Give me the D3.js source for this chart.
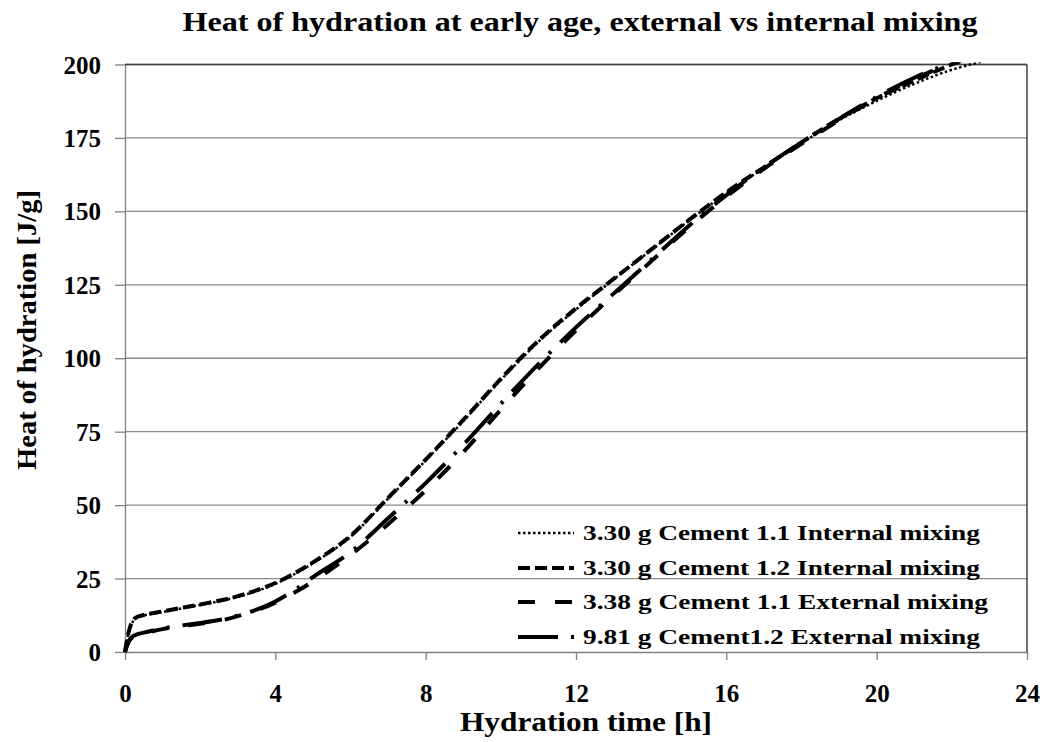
<!DOCTYPE html>
<html>
<head>
<meta charset="utf-8">
<script src="https://cdn.jsdelivr.net/npm/d3@7"></script>
<style>
  body { margin: 0; background: #fff; }
  svg { display: block; }
  text { font-family: "Liberation Serif", "Times New Roman", Tinos, serif; font-weight: bold; fill: #000; }
</style>
</head>
<body>
<svg id="chart" width="1043" height="742"></svg>
<script>
// ---- data ----
const title = "Heat of hydration at early age, external vs internal mixing";
const xTitle = "Hydration time [h]";
const yTitle = "Heat of hydration [J/g]";
const xTicks = [0, 4, 8, 12, 16, 20, 24];
const yTicks = [0, 25, 50, 75, 100, 125, 150, 175, 200];

const seriesNames = [
  "3.30 g Cement 1.1 Internal mixing",
  "3.30 g Cement 1.2 Internal mixing",
  "3.38 g Cement 1.1 External mixing",
  "9.81 g Cement1.2 External mixing"
];

const hours1 = [0, 0.05, 0.1, 0.2, 0.3, 0.5, 1, 1.5, 2, 3, 4, 5, 6, 7, 8, 9, 10, 11, 12, 13, 14, 15, 16, 17, 18, 19, 20, 21, 22, 22.8];
const heat1  = [0, 3.8, 6.8, 10.2, 11.5, 12.4, 13.6, 14.8, 16, 18.8, 23.2, 30.2, 39.2, 52.2, 65.2, 78.6, 92.6, 105.6, 116.6, 126.8, 136.8, 146.8, 156.2, 164.8, 173.2, 181, 187.6, 193.4, 198.2, 201];

const hours2 = [0, 0.05, 0.1, 0.2, 0.3, 0.5, 1, 1.5, 2, 3, 4, 5, 6, 7, 8, 9, 10, 11, 12, 13, 14, 15, 16, 17, 18, 19, 20, 21, 22, 22.4];
const heat2  = [0, 4, 7, 10.5, 11.8, 12.6, 13.8, 15, 16.2, 19, 23.5, 30.5, 39.5, 52.5, 65.5, 79, 93, 106, 117, 127, 137, 147, 156.5, 165, 173.5, 181.5, 188.5, 194.5, 200, 202];

const hours3 = [0, 0.05, 0.1, 0.2, 0.3, 0.5, 1, 1.5, 2, 2.5, 3, 3.5, 4, 4.5, 5, 6, 7, 8, 9, 10, 11, 12, 13, 14, 15, 16, 17, 18, 19, 20, 21, 22, 22.4];
const heat3  = [0, 2, 3.5, 5, 5.6, 6.3, 7.8, 8.8, 9.6, 10.6, 12.2, 14.2, 16.8, 20.2, 24, 33, 43.5, 55, 68, 82.5, 96.5, 109.5, 121.5, 133, 144.5, 155, 164.5, 173, 181, 188.5, 195, 200.5, 202];

const hours4 = [0, 0.05, 0.1, 0.2, 0.3, 0.5, 1, 1.5, 2, 2.5, 3, 3.5, 4, 4.5, 5, 6, 7, 8, 9, 10, 11, 12, 13, 14, 15, 16, 17, 18, 19, 20, 21, 22, 22.4];
const heat4  = [0, 2.2, 3.8, 5.3, 5.9, 6.6, 8, 9, 9.9, 10.9, 12.4, 14.4, 17.2, 21, 25.5, 34, 45.5, 57.5, 70.5, 84.5, 98, 110.5, 122, 133.5, 145, 155.5, 165, 173.5, 181.5, 189, 195.5, 200.5, 202];

const seriesHours = [hours1, hours2, hours3, hours4];
const seriesHeat = [heat1, heat2, heat3, heat4];

// ---- styles ----
const styles = [
  { width: 2.5, dash: "2.5,2.5" },
  { width: 4, dash: "12,5" },
  { width: 4, dash: "17,20" },
  { width: 4, dash: "40,13,3,13" }
];
const FONT = '"Liberation Serif", "Times New Roman", Tinos, serif';

const svg = d3.select("#chart");
const m = { left: 125, right: 1027, top: 64.5, bottom: 652 };

const x = d3.scaleLinear().domain([0, 24]).range([m.left, m.right]);
const y = d3.scaleLinear().domain([0, 200]).range([m.bottom, m.top]);

// gridlines
svg.append("g")
  .selectAll("line")
  .data(yTicks.filter(d => d > 0))
  .join("line")
  .attr("x1", m.left).attr("x2", m.right)
  .attr("y1", d => y(d)).attr("y2", d => y(d))
  .attr("stroke", "#8a8a8a").attr("stroke-width", 1.3);

// left axis
const yAxis = svg.append("g")
  .attr("transform", `translate(${m.left},0)`)
  .call(d3.axisLeft(y).tickValues(yTicks).tickSize(10).tickSizeOuter(0).tickPadding(14));
yAxis.attr("font-family", FONT);
yAxis.select(".domain").attr("stroke", "#808080").attr("stroke-width", 1.3);
yAxis.selectAll(".tick line").attr("stroke", "#808080").attr("stroke-width", 1.3);
yAxis.selectAll(".tick text")
  .style("font-family", FONT).style("font-weight", "bold")
  .style("font-size", "25px").attr("fill", "#000").attr("dy", "0.34em");

// bottom axis
const xAxis = svg.append("g")
  .attr("transform", `translate(0,${m.bottom})`)
  .call(d3.axisBottom(x).tickValues(xTicks).tickSize(8).tickSizeOuter(0).tickPadding(24));
xAxis.attr("font-family", FONT);
xAxis.select(".domain").attr("stroke", "#808080").attr("stroke-width", 1.3);
xAxis.selectAll(".tick line").attr("stroke", "#808080").attr("stroke-width", 1.3);
xAxis.selectAll(".tick text")
  .style("font-family", FONT).style("font-weight", "bold")
  .style("font-size", "25px").attr("fill", "#000");

// top and right borders
svg.append("line").attr("x1", m.left).attr("x2", m.right).attr("y1", m.top).attr("y2", m.top)
  .attr("stroke", "#404040").attr("stroke-width", 1.5);
svg.append("line").attr("x1", m.right).attr("x2", m.right).attr("y1", m.top).attr("y2", m.bottom)
  .attr("stroke", "#404040").attr("stroke-width", 1.5);

// series lines
const line = d3.line().x(d => x(d[0])).y(d => y(d[1])).curve(d3.curveMonotoneX);
svg.append("clipPath").attr("id", "plotclip").append("rect")
  .attr("x", m.left - 3).attr("y", m.top - 2).attr("width", m.right - m.left + 3).attr("height", m.bottom - m.top + 4);

const plotG = svg.append("g").attr("clip-path", "url(#plotclip)");
[3, 2, 1, 0].forEach(i => {
  const pts = seriesHours[i].map((h, k) => [h, seriesHeat[i][k]]);
  plotG.append("path")
    .attr("d", line(pts))
    .attr("fill", "none")
    .attr("stroke", "#000")
    .attr("stroke-width", styles[i].width)
    .attr("stroke-dasharray", styles[i].dash);
});

// legend
const legendBaselines = [540, 575, 609, 644];
const legendLengths = [397, 397, 405, 397];
const lg = svg.append("g");
seriesNames.forEach((name, i) => {
  const by = legendBaselines[i];
  lg.append("line")
    .attr("x1", 518).attr("x2", i === 3 ? 577 : 574)
    .attr("y1", by - 7).attr("y2", by - 7)
    .attr("stroke", "#000")
    .attr("stroke-width", styles[i].width)
    .attr("stroke-dasharray", styles[i].dash);
  lg.append("text")
    .attr("x", 583).attr("y", by)
    .attr("textLength", legendLengths[i]).attr("lengthAdjust", "spacingAndGlyphs")
    .style("font-size", "21px")
    .text(name);
});

// titles
svg.append("text")
  .attr("x", 580).attr("y", 31)
  .attr("text-anchor", "middle")
  .attr("textLength", 795).attr("lengthAdjust", "spacingAndGlyphs")
  .style("font-size", "27px")
  .text(title);

svg.append("text")
  .attr("x", 586).attr("y", 731)
  .attr("text-anchor", "middle")
  .attr("textLength", 252).attr("lengthAdjust", "spacingAndGlyphs")
  .style("font-size", "27px")
  .text(xTitle);

svg.append("text")
  .attr("transform", "translate(36,330) rotate(-90)")
  .attr("text-anchor", "middle")
  .attr("textLength", 280).attr("lengthAdjust", "spacingAndGlyphs")
  .style("font-size", "27px")
  .text(yTitle);
</script>
</body>
</html>
